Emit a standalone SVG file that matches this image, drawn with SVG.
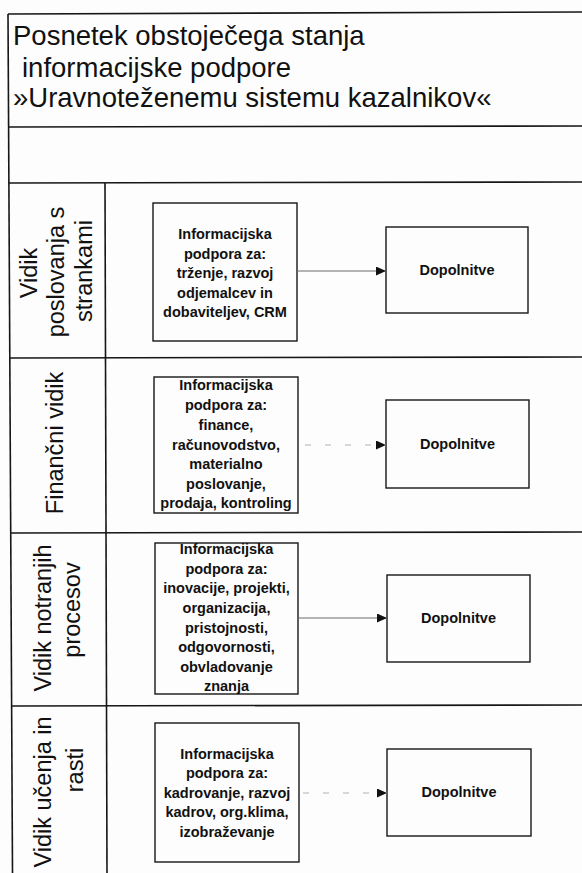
<svg xmlns="http://www.w3.org/2000/svg" width="582" height="873" viewBox="0 0 582 873">
  <style>
    .rule { stroke: #161616; stroke-width: 1.6; fill: none; }
    .box { stroke: #161616; stroke-width: 1.4; fill: none; }
    .title { font-family: "Liberation Sans", Arial, sans-serif; font-size: 27.5px; fill: #111; }
    .lane { font-family: "Liberation Sans", Arial, sans-serif; font-size: 23.5px; fill: #111; text-anchor: middle; }
    .info { font-family: "Liberation Sans", Arial, sans-serif; font-size: 14.5px; font-weight: bold; fill: #111; text-anchor: middle; }
    .add { font-family: "Liberation Sans", Arial, sans-serif; font-size: 14.5px; font-weight: bold; fill: #111; text-anchor: middle; }
    .link { stroke: #6a6a6a; stroke-width: 1; fill: none; }
    .faint { stroke: #b0b0b0; stroke-width: 1; stroke-dasharray: 6 14; fill: none; }
  </style>
  <defs>
    <marker id="arrow" markerUnits="userSpaceOnUse" markerWidth="11" markerHeight="9" refX="10" refY="4.5" orient="auto">
      <path d="M0,0 L10,4.5 L0,9 z" fill="#111"/>
    </marker>
  </defs>

  <rect x="0" y="0" width="582" height="873" fill="#fdfdfd"/>

  <!-- table frame -->
  <g id="frame">
    <line class="rule" x1="8" y1="14" x2="582" y2="12"/>
    <line class="rule" x1="8" y1="127" x2="582" y2="126"/>
    <line class="rule" x1="9" y1="183" x2="582" y2="182"/>
    <line class="rule" x1="10" y1="358" x2="582" y2="357"/>
    <line class="rule" x1="11" y1="533" x2="582" y2="532"/>
    <line class="rule" x1="12" y1="706" x2="582" y2="705"/>
    <line class="rule" x1="8" y1="14" x2="12.5" y2="873"/>
    <line class="rule" x1="105" y1="183" x2="107" y2="873"/>
  </g>

  <!-- heading -->
  <g id="heading">
    <text class="title" x="13" y="45">Posnetek obstoječega stanja</text>
    <text class="title" x="22" y="77">informacijske podpore</text>
    <text class="title" x="13" y="107">»Uravnoteženemu sistemu kazalnikov«</text>
  </g>

  <!-- lane captions -->
  <g id="lane-stranke">
    <text class="lane" transform="translate(37,273) rotate(-90)">Vidik</text>
    <text class="lane" transform="translate(64,272) rotate(-90)">poslovanja s</text>
    <text class="lane" transform="translate(92,271) rotate(-90)">strankami</text>
  </g>
  <g id="lane-finance">
    <text class="lane" transform="translate(63,443) rotate(-90)">Finančni vidik</text>
  </g>
  <g id="lane-procesi">
    <text class="lane" transform="translate(51,618) rotate(-90)">Vidik notranjih</text>
    <text class="lane" transform="translate(80,610) rotate(-90)">procesov</text>
  </g>
  <g id="lane-rast">
    <text class="lane" transform="translate(51,792) rotate(-90)">Vidik učenja in</text>
    <text class="lane" transform="translate(83,770) rotate(-90)">rasti</text>
  </g>

  <!-- information support boxes -->
  <g id="info-stranke">
    <rect class="box" x="153" y="203" width="144" height="138"/>
    <text class="info" x="225" y="239">Informacijska</text>
    <text class="info" x="225" y="258.5">podpora za:</text>
    <text class="info" x="225" y="278">trženje, razvoj</text>
    <text class="info" x="225" y="297.5">odjemalcev in</text>
    <text class="info" x="225" y="317">dobaviteljev, CRM</text>
  </g>
  <g id="info-finance">
    <rect class="box" x="154" y="377" width="144" height="136"/>
    <text class="info" x="226" y="390">Informacijska</text>
    <text class="info" x="226" y="410">podpora za:</text>
    <text class="info" x="226" y="430">finance,</text>
    <text class="info" x="226" y="450">računovodstvo,</text>
    <text class="info" x="226" y="469">materialno</text>
    <text class="info" x="226" y="489">poslovanje,</text>
    <text class="info" x="226" y="508">prodaja, kontroling</text>
  </g>
  <g id="info-procesi">
    <rect class="box" x="155" y="543" width="143" height="151"/>
    <text class="info" x="226.5" y="554">Informacijska</text>
    <text class="info" x="226.5" y="574">podpora za:</text>
    <text class="info" x="226.5" y="593">inovacije, projekti,</text>
    <text class="info" x="226.5" y="613">organizacija,</text>
    <text class="info" x="226.5" y="633">pristojnosti,</text>
    <text class="info" x="226.5" y="652">odgovornosti,</text>
    <text class="info" x="226.5" y="672">obvladovanje</text>
    <text class="info" x="226.5" y="691">znanja</text>
  </g>
  <g id="info-rast">
    <rect class="box" x="155" y="723" width="144" height="139"/>
    <text class="info" x="227" y="759">Informacijska</text>
    <text class="info" x="227" y="778">podpora za:</text>
    <text class="info" x="227" y="798">kadrovanje, razvoj</text>
    <text class="info" x="227" y="817">kadrov, org.klima,</text>
    <text class="info" x="227" y="837">izobraževanje</text>
  </g>

  <!-- supplement boxes -->
  <g id="add-stranke">
    <rect class="box" x="386" y="227" width="142" height="86"/>
    <text class="add" x="457" y="275">Dopolnitve</text>
  </g>
  <g id="add-finance">
    <rect class="box" x="386" y="400" width="143" height="88"/>
    <text class="add" x="457.5" y="449">Dopolnitve</text>
  </g>
  <g id="add-procesi">
    <rect class="box" x="387" y="575" width="143" height="87"/>
    <text class="add" x="458.5" y="623">Dopolnitve</text>
  </g>
  <g id="add-rast">
    <rect class="box" x="387" y="749" width="144" height="87"/>
    <text class="add" x="459" y="797">Dopolnitve</text>
  </g>

  <!-- arrows from support boxes to supplements -->
  <g id="connectors">
    <line class="link" x1="297" y1="271" x2="386" y2="271" marker-end="url(#arrow)"/>
    <line class="faint" x1="305" y1="445" x2="386" y2="445" marker-end="url(#arrow)"/>
    <line class="link" x1="298" y1="618" x2="387" y2="618" marker-end="url(#arrow)"/>
    <line class="faint" x1="303" y1="793" x2="387" y2="793" marker-end="url(#arrow)"/>
  </g>
</svg>
